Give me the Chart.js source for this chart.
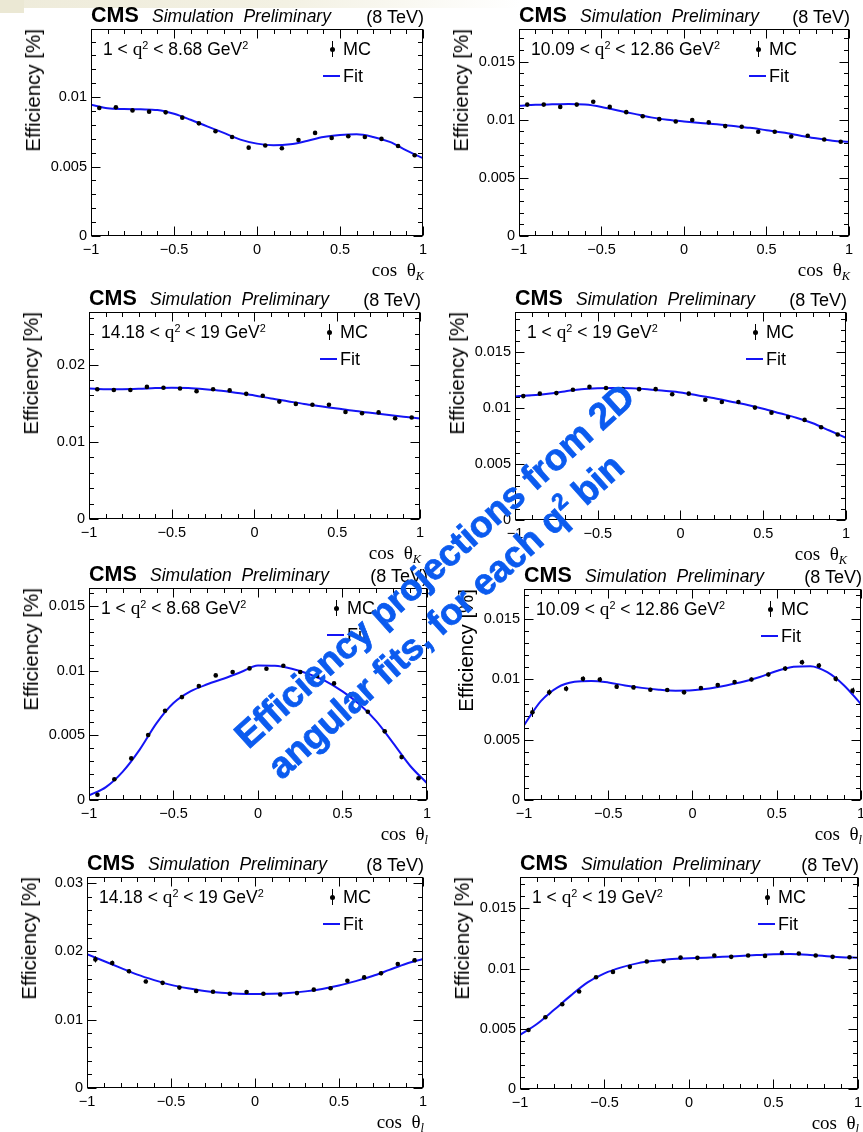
<!DOCTYPE html>
<html>
<head>
<meta charset="utf-8">
<title>Efficiency projections</title>
<script src="https://cdn.jsdelivr.net/npm/chart.js@4.4.1/dist/chart.umd.min.js"></script>
<style>
  html, body { margin: 0; padding: 0; }
  body { width: 863px; height: 1132px; overflow: hidden; background: #fff; position: relative;
         font-family: "Liberation Sans", Arial, Helvetica, sans-serif; color: #000; }
  .band { position: absolute; left: 0; top: 0; width: 520px; height: 8px;
          background: linear-gradient(to right, #eeebda 0%, #f3f1e3 55%, rgba(255,255,255,0) 100%); }
  .corner { position: absolute; left: 0; top: 0; width: 24px; height: 13px; background: #ebe8d4; }
  .panel { position: absolute; }
  .panel canvas { position: absolute; }
  .txt { position: absolute; line-height: 1; white-space: nowrap; }
  .serif { font-family: "Liberation Serif", "Times New Roman", serif; }
  .sup { font-size: 62%; position: relative; top: -0.6em; }
  .sub { font-size: 65%; position: relative; top: 0.3em; font-style: italic; }
  .ytitle { position: absolute; top: 0; line-height: 1; white-space: nowrap; font-size: 20.5px;
            transform-origin: 0 0; transform: rotate(-90deg) translateX(-100%); }
  .mcdot { position: absolute; width: 5px; height: 5px; border-radius: 50%; background: #000; }
  .mcbar { position: absolute; width: 1px; background: #000; }
  .fitline { position: absolute; height: 2px; background: #1414f5; }
  .stamp { position: absolute; left: 225px; top: 724px; transform-origin: 0 0; transform: rotate(-42deg);
           font-weight: bold; font-size: 37px; line-height: 45px; color: #0b5bef; white-space: nowrap;
           letter-spacing: -0.4px; -webkit-text-stroke: 0.7px #0b5bef; }
</style>
</head>
<body>
<div class="band"></div>
<div class="corner"></div>

<script>
const binCentres = [-0.95, -0.85, -0.75, -0.65, -0.55, -0.45, -0.35, -0.25, -0.15, -0.05,
                    0.05, 0.15, 0.25, 0.35, 0.45, 0.55, 0.65, 0.75, 0.85, 0.95];
const fitNodes = [-1, -0.9, -0.8, -0.7, -0.6, -0.5, -0.4, -0.3, -0.2, -0.1, 0,
                  0.1, 0.2, 0.3, 0.4, 0.5, 0.6, 0.7, 0.8, 0.9, 1];
const xTickValues = [-1, -0.5, 0, 0.5, 1];

// q2 bins (GeV^2)
const q2Low = [1, 10.09, 14.18, 1];
const q2High = [8.68, 12.86, 19, 19];

// y axis major ticks
const yTicksA = [0, 0.005, 0.01];
const yTicksB = [0, 0.005, 0.01, 0.015];
const yTicksC = [0, 0.01, 0.02];
const yTicksD = [0, 0.01, 0.02, 0.03];

// cos theta_K projections
const mcK_q1 = [0.00921, 0.00926, 0.00904, 0.00895, 0.00890, 0.00852, 0.00811, 0.00754, 0.00713, 0.00636,
                0.00651, 0.00632, 0.00691, 0.00742, 0.00706, 0.00718, 0.00713, 0.00699, 0.00648, 0.00581];
const fitK_q1 = [0.00945, 0.00920, 0.00914, 0.00912, 0.00907, 0.00880, 0.00837, 0.00789, 0.00742, 0.00694, 0.00665,
                 0.00653, 0.00660, 0.00684, 0.00713, 0.00727, 0.00732, 0.00713, 0.00677, 0.00617, 0.00560];
const mcK_q2 = [0.01130, 0.01130, 0.01110, 0.01130, 0.01155, 0.01110, 0.01065, 0.01030, 0.01005, 0.00985,
                0.00997, 0.00977, 0.00945, 0.00940, 0.00897, 0.00897, 0.00856, 0.00862, 0.00830, 0.00810];
const fitK_q2 = [0.01120, 0.01128, 0.01132, 0.01135, 0.01130, 0.01110, 0.01080, 0.01050, 0.01020, 0.01000, 0.00985,
                 0.00972, 0.00960, 0.00945, 0.00930, 0.00910, 0.00890, 0.00865, 0.00840, 0.00820, 0.00810];
const mcK_q3 = [0.01680, 0.01670, 0.01670, 0.01710, 0.01700, 0.01690, 0.01655, 0.01680, 0.01665, 0.01620,
                0.01595, 0.01520, 0.01490, 0.01480, 0.01480, 0.01385, 0.01370, 0.01380, 0.01305, 0.01315];
const fitK_q3 = [0.01690, 0.01680, 0.01680, 0.01685, 0.01695, 0.01700, 0.01695, 0.01680, 0.01660, 0.01630, 0.01600,
                 0.01560, 0.01525, 0.01490, 0.01460, 0.01430, 0.01400, 0.01375, 0.01350, 0.01325, 0.01300];
const mcK_all = [0.01108, 0.01130, 0.01135, 0.01165, 0.01190, 0.01180, 0.01170, 0.01170, 0.01170, 0.01125,
                 0.01130, 0.01075, 0.01055, 0.01055, 0.01005, 0.00960, 0.00920, 0.00895, 0.00830, 0.00765];
const fitK_all = [0.01105, 0.01115, 0.01130, 0.01150, 0.01170, 0.01178, 0.01180, 0.01178, 0.01170, 0.01155, 0.01140,
                  0.01115, 0.01090, 0.01060, 0.01030, 0.00995, 0.00955, 0.00915, 0.00865, 0.00800, 0.00735];

// cos theta_l projections
const mcL_q1 = [0.00041, 0.00160, 0.00322, 0.00503, 0.00690, 0.00796, 0.00881, 0.00964, 0.00990, 0.01018,
                0.01015, 0.01039, 0.00990, 0.00960, 0.00902, 0.00817, 0.00683, 0.00531, 0.00332, 0.00168];
const fitL_q1 = [0.00035, 0.00100, 0.00220, 0.00390, 0.00595, 0.00750, 0.00840, 0.00895, 0.00940, 0.00990, 0.01040,
                 0.01038, 0.01015, 0.00975, 0.00920, 0.00840, 0.00740, 0.00610, 0.00440, 0.00265, 0.00130];
const mcL_q2 = [0.00728, 0.00893, 0.00923, 0.01005, 0.01000, 0.00940, 0.00934, 0.00915, 0.00912, 0.00893,
                0.00929, 0.00953, 0.00978, 0.01000, 0.01041, 0.01090, 0.01143, 0.01115, 0.01005, 0.00907];
const fitL_q2 = [0.00620, 0.00820, 0.00935, 0.00980, 0.00988, 0.00975, 0.00950, 0.00930, 0.00915, 0.00907, 0.00910,
                 0.00925, 0.00950, 0.00980, 0.01020, 0.01070, 0.01105, 0.01110, 0.01060, 0.00950, 0.00795];
const errL_q2 = [0.00040, 0.00025, 0.00022, 0.00020, 0.00020, 0.00018, 0.00016, 0.00015, 0.00015, 0.00015,
                 0.00015, 0.00015, 0.00015, 0.00016, 0.00017, 0.00018, 0.00020, 0.00020, 0.00022, 0.00025];
const mcL_q3 = [0.01883, 0.01830, 0.01710, 0.01560, 0.01540, 0.01470, 0.01420, 0.01410, 0.01380, 0.01405,
                0.01380, 0.01370, 0.01390, 0.01440, 0.01460, 0.01570, 0.01620, 0.01680, 0.01815, 0.01870];
const fitL_q3 = [0.01960, 0.01860, 0.01760, 0.01660, 0.01580, 0.01510, 0.01460, 0.01420, 0.01395, 0.01382, 0.01378,
                 0.01380, 0.01390, 0.01415, 0.01450, 0.01500, 0.01565, 0.01640, 0.01730, 0.01820, 0.01890];
const errL_q3 = [0.00045, 0.00035, 0.00030, 0.00028, 0.00025, 0.00022, 0.00020, 0.00020, 0.00020, 0.00020,
                 0.00020, 0.00020, 0.00020, 0.00020, 0.00022, 0.00025, 0.00028, 0.00030, 0.00030, 0.00030];
const mcL_all = [0.00490, 0.00596, 0.00704, 0.00809, 0.00928, 0.00972, 0.01014, 0.01058, 0.01061, 0.01091,
                 0.01089, 0.01108, 0.01097, 0.01108, 0.01105, 0.01130, 0.01125, 0.01108, 0.01097, 0.01094];
const fitL_all = [0.00450, 0.00540, 0.00655, 0.00775, 0.00885, 0.00960, 0.01010, 0.01045, 0.01065, 0.01080, 0.01085,
                  0.01090, 0.01097, 0.01105, 0.01112, 0.01118, 0.01120, 0.01115, 0.01105, 0.01093, 0.01090];

// one entry per pad: data, y range and where the frame sits on the page
const panels = [
  { mc: mcK_q1,  fit: fitK_q1,  err: 0.00008, q2: 0, angle: 'K', yMax: 0.0149, yMajor: yTicksA, yMinor: 0.001, box: [91, 29, 424, 236] },
  { mc: mcK_q2,  fit: fitK_q2,  err: 0.00010, q2: 1, angle: 'K', yMax: 0.0178, yMajor: yTicksB, yMinor: 0.001, box: [519, 29, 850, 236] },
  { mc: mcK_q3,  fit: fitK_q3,  err: 0.00015, q2: 2, angle: 'K', yMax: 0.0268, yMajor: yTicksC, yMinor: 0.002, box: [89, 312, 421, 519] },
  { mc: mcK_all, fit: fitK_all, err: 0.00006, q2: 3, angle: 'K', yMax: 0.0186, yMajor: yTicksB, yMinor: 0.001, box: [515, 312, 847, 520] },
  { mc: mcL_q1,  fit: fitL_q1,  err: 0.00008, q2: 0, angle: 'l', yMax: 0.0164, yMajor: yTicksB, yMinor: 0.001, box: [89, 588, 428, 800] },
  { mc: mcL_q2,  fit: fitL_q2,  err: errL_q2, q2: 1, angle: 'l', yMax: 0.0175, yMajor: yTicksB, yMinor: 0.001, box: [524, 589, 862, 800] },
  { mc: mcL_q3,  fit: fitL_q3,  err: errL_q3, q2: 2, angle: 'l', yMax: 0.0309, yMajor: yTicksD, yMinor: 0.002, box: [87, 877, 424, 1088] },
  { mc: mcL_all, fit: fitL_all, err: 0.00006, q2: 3, angle: 'l', yMax: 0.0176, yMajor: yTicksB, yMinor: 0.001, box: [520, 877, 859, 1089] }
];

const tickFont = { family: '"Liberation Sans", Arial, sans-serif', size: 14.5 };

// put a line of text with its baseline at y = base
function addText(parent, html, x, base, size, extra) {
  const el = document.createElement('div');
  el.className = 'txt';
  el.innerHTML = html;
  el.style.fontSize = size + 'px';
  el.style.left = x + 'px';
  el.style.top = (base - 0.85 * size) + 'px';
  if (extra) Object.assign(el.style, extra);
  parent.appendChild(el);
  return el;
}

// ROOT style frame: box, inward ticks on all four sides, error bars
function rootFrame(spec) {
  return {
    id: 'rootFrame',
    afterDatasetsDraw(chart) {
      const ctx = chart.ctx;
      const ys = chart.scales.y;
      const meta = chart.getDatasetMeta(1);
      ctx.save();
      ctx.strokeStyle = '#000';
      ctx.lineWidth = 1;
      ctx.beginPath();
      meta.data.forEach((pt, i) => {
        const e = Array.isArray(spec.err) ? spec.err[i] : spec.err;
        const x = Math.round(pt.x) + 0.5;
        ctx.moveTo(x, ys.getPixelForValue(spec.mc[i] - e));
        ctx.lineTo(x, ys.getPixelForValue(spec.mc[i] + e));
      });
      ctx.stroke();
      ctx.restore();
    },
    afterDraw(chart) {
      const { ctx, chartArea: a, scales: { x, y } } = chart;
      const l = Math.round(a.left) + 0.5, r = Math.round(a.right) - 0.5;
      const t = Math.round(a.top) + 0.5, b = Math.round(a.bottom) - 0.5;
      ctx.save();
      ctx.strokeStyle = '#000';
      ctx.lineWidth = 1;
      ctx.strokeRect(l, t, r - l, b - t);
      ctx.beginPath();
      for (let k = -10; k <= 10; k++) {
        const px = Math.round(x.getPixelForValue(k / 10)) + 0.5;
        const len = k % 5 === 0 ? 9 : 4.5;
        ctx.moveTo(px, b); ctx.lineTo(px, b - len);
        ctx.moveTo(px, t); ctx.lineTo(px, t + len);
      }
      const n = Math.floor(spec.yMax / spec.yMinor + 1e-6);
      for (let k = 0; k <= n; k++) {
        const v = k * spec.yMinor;
        const major = spec.yMajor.some(m => Math.abs(m - v) < 1e-9);
        const py = Math.round(y.getPixelForValue(v)) + 0.5;
        const len = major ? 9 : 4.5;
        ctx.moveTo(l, py); ctx.lineTo(l + len, py);
        ctx.moveTo(r, py); ctx.lineTo(r - len, py);
      }
      ctx.stroke();
      ctx.restore();
    }
  };
}

panels.forEach(spec => {
  const [L, T, R, B] = spec.box;
  const w = R - L, h = B - T;
  const padL = 62, padT = 14, padR = 8, padB = 24;

  const pad = document.createElement('div');
  pad.className = 'panel';
  pad.style.left = L + 'px';
  pad.style.top = T + 'px';
  document.body.appendChild(pad);

  const cv = document.createElement('canvas');
  cv.width = padL + w + padR;
  cv.height = padT + h + padB;
  cv.style.left = -padL + 'px';
  cv.style.top = -padT + 'px';
  pad.appendChild(cv);

  const chart = new Chart(cv, {
    type: 'scatter',
    data: {
      datasets: [
        {
          label: 'Fit',
          data: fitNodes.map((x, i) => ({ x: x, y: spec.fit[i] })),
          showLine: true,
          borderColor: '#1414f5',
          borderWidth: 2,
          pointRadius: 0,
          cubicInterpolationMode: 'monotone',
          order: 2
        },
        {
          label: 'MC',
          data: binCentres.map((x, i) => ({ x: x, y: spec.mc[i] })),
          showLine: false,
          pointRadius: 2.3,
          pointBorderWidth: 0,
          pointBackgroundColor: '#000',
          order: 1
        }
      ]
    },
    options: {
      responsive: false,
      animation: false,
      events: [],
      layout: { padding: { left: 0, top: padT, right: padR, bottom: 0 }, autoPadding: false },
      plugins: { legend: { display: false }, tooltip: { enabled: false } },
      scales: {
        x: {
          type: 'linear', min: -1, max: 1,
          afterBuildTicks: axis => { axis.ticks = xTickValues.map(v => ({ value: v })); },
          afterFit: axis => { axis.height = padB; },
          grid: { display: false, drawTicks: false },
          border: { display: false },
          ticks: {
            padding: 5, color: '#000', font: tickFont, maxRotation: 0, autoSkip: false,
            callback: v => (v < 0 ? '\u2212' + Math.abs(v) : String(v))
          }
        },
        y: {
          type: 'linear', min: 0, max: spec.yMax,
          afterBuildTicks: axis => { axis.ticks = spec.yMajor.map(v => ({ value: v })); },
          afterFit: axis => { axis.width = padL; },
          grid: { display: false, drawTicks: false },
          border: { display: false },
          ticks: {
            padding: 4, color: '#000', font: tickFont, autoSkip: false,
            callback: v => String(parseFloat(Number(v).toFixed(4)))
          }
        }
      }
    },
    plugins: [rootFrame(spec)]
  });

  // line the plot area up with the frame position
  cv.style.left = -chart.chartArea.left + 'px';
  cv.style.top = -chart.chartArea.top + 'px';

  // header
  addText(pad, '<b>CMS</b>', 0, -6, 21.5);
  addText(pad, '<i>Simulation&nbsp;&nbsp;Preliminary</i>', 61, -6, 17.5);
  addText(pad, '(8 TeV)', w, -6, 18, { transform: 'translateX(-100%)' });

  // q2 bin label
  addText(pad, q2Low[spec.q2] + ' &lt; <span class="serif" style="font-size:110%">q</span><span class="sup">2</span> &lt; ' +
          q2High[spec.q2] + ' GeV<span class="sup">2</span>', 12, 25, 17.5);

  // legend
  const dot = document.createElement('div');
  dot.className = 'mcdot';
  dot.style.left = (w - 94.5) + 'px';
  dot.style.top = '17.5px';
  pad.appendChild(dot);
  const bar = document.createElement('div');
  bar.className = 'mcbar';
  bar.style.left = (w - 92.5) + 'px';
  bar.style.top = '12px';
  bar.style.height = '16px';
  pad.appendChild(bar);
  addText(pad, 'MC', w - 81, 26, 18);
  const fl = document.createElement('div');
  fl.className = 'fitline';
  fl.style.left = (w - 101) + 'px';
  fl.style.top = '46px';
  fl.style.width = '17px';
  pad.appendChild(fl);
  addText(pad, 'Fit', w - 81, 53, 18);

  // axis titles
  const yt = document.createElement('div');
  yt.className = 'ytitle';
  yt.style.left = '-68px';
  yt.textContent = 'Efficiency [%]';
  pad.appendChild(yt);
  addText(pad, 'cos&nbsp;&nbsp;\u03b8<span class="sub">' + spec.angle + '</span>', w, h + 40.5, 19,
          { transform: 'translateX(-100%)', fontFamily: '"Liberation Serif", "Times New Roman", serif' });
});
</script>

<div class="stamp">
  <div>Efficiency projections from 2D</div>
  <div style="padding-left:4px">angular fits, for each q<span class="sup">2</span> bin</div>
</div>
</body>
</html>
